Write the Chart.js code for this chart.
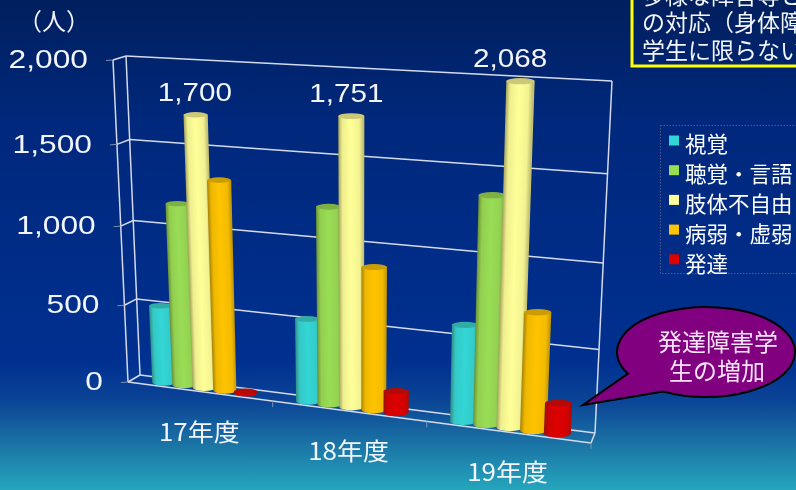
<!DOCTYPE html>
<html>
<head>
<meta charset="utf-8">
<script src="https://cdn.jsdelivr.net/npm/chart.js@4"></script>
<style>
html, body { margin: 0; padding: 0; overflow: hidden; }
body { width: 796px; height: 490px; background: linear-gradient(180deg, #001f5e 0%, #00287c 25%, #003090 74%, #0b4596 82%, #1a70a4 90%, #25a6bc 100%); }
#chartBox { position: relative; width: 796px; height: 490px; }
</style>
</head>
<body>
<div id="chartBox"><canvas id="enrolChart"></canvas></div>
<script>
const years = ['17年度', '18年度', '19年度'];
const visual = [500, 520, 590];
const hearing = [1155, 1215, 1360];
const physical = [1700, 1751, 2068];
const illness = [1320, 880, 710];
const developmental = [10, 135, 185];
const yTicks = [0, 500, 1000, 1500, 2000];

const seriesNames = ['視覚', '聴覚・言語', '肢体不自由', '病弱・虚弱', '発達'];
const seriesColors = ['#33D6D6', '#99DD55', '#FFFF99', '#FFC400', '#DD0000'];

const JP = '"Noto Sans CJK JP"';
const LATIN = '"Liberation Sans"';

// square to quad, corners are bottom-left, bottom-right, top-right, top-left
function makeQuad(p) {
    const [x0, y0] = p[0], [x1, y1] = p[1], [x2, y2] = p[2], [x3, y3] = p[3];
    const dx1 = x1 - x2, dx2 = x3 - x2, sx = x0 - x1 + x2 - x3;
    const dy1 = y1 - y2, dy2 = y3 - y2, sy = y0 - y1 + y2 - y3;
    const den = dx1 * dy2 - dx2 * dy1;
    const g = (sx * dy2 - dx2 * sy) / den;
    const h = (dx1 * sy - sx * dy1) / den;
    const a = x1 - x0 + g * x1, b = x3 - x0 + h * x3;
    const d = y1 - y0 + g * y1, e = y3 - y0 + h * y3;
    return (u, v) => {
        const w = g * u + h * v + 1;
        return [(a * u + b * v + x0) / w, (d * u + e * v + y0) / w];
    };
}

const backWall = makeQuad([[140, 375], [595, 433], [612, 81], [126, 56]]);
const frontWall = makeQuad([[128, 382], [591, 443], [608, 91], [113, 60]]);
const barPlane = makeQuad([[134, 378.5], [593, 438], [610, 86], [119.5, 59.5]]);

function mix(hex, other, t) {
    const n = parseInt(hex.slice(1), 16), m = parseInt(other.slice(1), 16);
    const c = s => Math.round(((n >> s) & 255) * (1 - t) + ((m >> s) & 255) * t);
    return `rgb(${c(16)},${c(8)},${c(0)})`;
}

function line(ctx, a, b) {
    ctx.beginPath();
    ctx.moveTo(a[0], a[1]);
    ctx.lineTo(b[0], b[1]);
    ctx.stroke();
}

function stretchedText(ctx, str, x, y, font, sx, align) {
    ctx.save();
    ctx.font = font;
    ctx.textAlign = align || 'center';
    ctx.textBaseline = 'middle';
    ctx.translate(x, y);
    ctx.scale(sx, 1);
    ctx.fillText(str, 0, 0);
    ctx.restore();
}

function drawCylinder(ctx, bl, br, tl, tr, color) {
    const rxB = (br[0] - bl[0]) / 2, rxT = (tr[0] - tl[0]) / 2;
    const cb = [(bl[0] + br[0]) / 2, (bl[1] + br[1]) / 2];
    const ct = [(tl[0] + tr[0]) / 2, (tl[1] + tr[1]) / 2];
    const ry = rxB * 0.3;

    ctx.save();
    ctx.beginPath();
    ctx.moveTo(tl[0], ct[1]);
    ctx.lineTo(bl[0], cb[1]);
    ctx.ellipse(cb[0], cb[1], rxB, ry, 0, Math.PI, 0, true);
    ctx.lineTo(tr[0], ct[1]);
    ctx.closePath();
    // gradient follows the lean of the bar
    ctx.transform(br[0] - bl[0], 0, tl[0] - bl[0], ct[1] - cb[1], bl[0], cb[1]);
    const g = ctx.createLinearGradient(0, 0, 1, 0);
    g.addColorStop(0, mix(color, '#302810', 0.42));
    g.addColorStop(0.16, mix(color, '#302810', 0.08));
    g.addColorStop(0.5, color);
    g.addColorStop(0.85, mix(color, '#302810', 0.06));
    g.addColorStop(1, mix(color, '#302810', 0.28));
    ctx.fillStyle = g;
    ctx.fill();
    ctx.restore();

    ctx.fillStyle = mix(color, '#302810', 0.25);
    ctx.beginPath();
    ctx.ellipse(ct[0], ct[1], rxT, ry * 0.8, 0, 0, Math.PI * 2);
    ctx.fill();
}

const scenePlugin = {
    id: 'scene',
    beforeDatasetsDraw(chart) {
        const ctx = chart.ctx, area = chart.chartArea;
        const ys = chart.scales.y;
        const toU = px => (px - area.left) / (area.right - area.left);
        const toV = py => (area.bottom - py) / (area.bottom - area.top);

        // walls
        ctx.save();
        ctx.strokeStyle = '#D4DAEA';
        ctx.lineWidth = 1.5;
        line(ctx, backWall(0, 0), backWall(0, 1));
        line(ctx, backWall(1, 0), backWall(1, 1));
        line(ctx, frontWall(0, 0), frontWall(0, 1));
        line(ctx, frontWall(1, 0), backWall(1, 0));
        line(ctx, frontWall(0, 0), frontWall(1, 0));
        ys.ticks.forEach(t => {
            const v = toV(ys.getPixelForValue(t.value));
            line(ctx, backWall(0, v), backWall(1, v));
            const f = frontWall(0, v);
            line(ctx, backWall(0, v), f);
        });
        ctx.strokeStyle = '#8090B4';
        ctx.lineWidth = 1;
        ys.ticks.forEach(t => {
            const f = frontWall(0, toV(ys.getPixelForValue(t.value)));
            line(ctx, f, [f[0] - 7, f[1] + 0.5]);
        });
        [1 / 3, 2 / 3, 1].forEach(u => {
            const f = frontWall(u, 0);
            line(ctx, f, [f[0], f[1] + 6]);
        });
        ctx.restore();

        // bars, anything over the axis maximum is cut at the top of the box
        chart.data.datasets.forEach((ds, i) => {
            chart.getDatasetMeta(i).data.forEach(bar => {
                const uL = toU(bar.x - bar.width / 2), uR = toU(bar.x + bar.width / 2);
                const vB = toV(bar.base), vT = Math.min(toV(bar.y), 1);
                drawCylinder(ctx, barPlane(uL, vB), barPlane(uR, vB), barPlane(uL, vT), barPlane(uR, vT), ds.backgroundColor);
            });
        });
        return false;
    },
    afterDraw(chart) {
        const ctx = chart.ctx, area = chart.chartArea;
        const xs = chart.scales.x, ys = chart.scales.y;
        const toU = px => (px - area.left) / (area.right - area.left);
        const toV = py => (area.bottom - py) / (area.bottom - area.top);

        ctx.save();
        ctx.fillStyle = '#F2F5FB';

        // value axis
        ys.ticks.forEach(t => {
            const v = toV(ys.getPixelForValue(t.value));
            const f = frontWall(0, v);
            stretchedText(ctx, t.label, f[0] - 25, f[1] + 1, '26px ' + LATIN, 1.22, 'right');
        });
        stretchedText(ctx, '（人）', 54, 21, '24px ' + JP, 1, 'center');

        // category axis
        xs.ticks.forEach((t, i) => {
            const p = frontWall(toU(xs.getPixelForValue(i)), 0);
            stretchedText(ctx, years[i], p[0], p[1] + 40, '24px ' + JP, 1.08, 'center');
        });

        // values above the tallest bars
        chart.getDatasetMeta(2).data.forEach((bar, i) => {
            const u = toU(bar.x), vT = Math.min(toV(bar.y), 1);
            const top = barPlane(u, vT), base = barPlane(u, 0);
            stretchedText(ctx, physical[i].toLocaleString('en-US'), (top[0] + base[0]) / 2 - 5, top[1] - 21, '26px ' + LATIN, 1.14, 'center');
        });

        // legend, runs off the right edge like the source slide
        ctx.strokeStyle = '#4A5C8C';
        ctx.lineWidth = 1;
        ctx.setLineDash([1.5, 1.5]);
        ctx.strokeRect(660.5, 125.5, 160, 148);
        ctx.setLineDash([]);
        seriesNames.forEach((name, i) => {
            ctx.fillStyle = seriesColors[i];
            ctx.fillRect(669, 135.5 + i * 29.7, 10, 10);
            ctx.fillStyle = '#FFFFFF';
            stretchedText(ctx, name, 685, 144 + i * 30, '21.5px ' + JP, 1, 'left');
        });

        // note box, cut by the top and right edges
        ctx.strokeStyle = '#FFFF00';
        ctx.lineWidth = 3;
        ctx.strokeRect(632, -10, 180, 76);
        ctx.fillStyle = '#F2F5FB';
        ['多様な障害等と', 'の対応（身体障', '学生に限らない'].forEach((s, i) => {
            stretchedText(ctx, s, 642, -5 + i * 27.5, '23px ' + JP, 1, 'left');
        });

        // callout
        ctx.beginPath();
        ctx.ellipse(706, 352, 89, 45, 0, Math.PI * 0.84, Math.PI * 0.66);
        ctx.lineTo(583, 405);
        ctx.closePath();
        ctx.fillStyle = '#800080';
        ctx.fill();
        ctx.strokeStyle = '#000000';
        ctx.lineWidth = 2;
        ctx.stroke();
        ctx.fillStyle = '#F8E2F8';
        stretchedText(ctx, '発達障害学', 718, 342, '24px ' + JP, 1, 'center');
        stretchedText(ctx, '生の増加', 717, 371, '24px ' + JP, 1, 'center');
        ctx.restore();
    }
};

new Chart(document.getElementById('enrolChart'), {
    type: 'bar',
    data: {
        labels: years,
        datasets: [visual, hearing, physical, illness, developmental].map((values, i) => ({
            label: seriesNames[i],
            data: values,
            backgroundColor: seriesColors[i]
        }))
    },
    options: {
        responsive: true,
        maintainAspectRatio: false,
        animation: false,
        layout: { padding: { left: 120, right: 180, top: 60, bottom: 100 } },
        datasets: { bar: { categoryPercentage: 0.72, barPercentage: 1.12 } },
        plugins: { legend: { display: false }, tooltip: { enabled: false } },
        scales: {
            x: { display: false },
            y: {
                display: false,
                min: 0,
                max: 2000,
                afterBuildTicks: axis => { axis.ticks = yTicks.map(value => ({ value })); },
                ticks: { callback: value => value.toLocaleString('en-US') }
            }
        }
    },
    plugins: [scenePlugin]
});
</script>
</body>
</html>
